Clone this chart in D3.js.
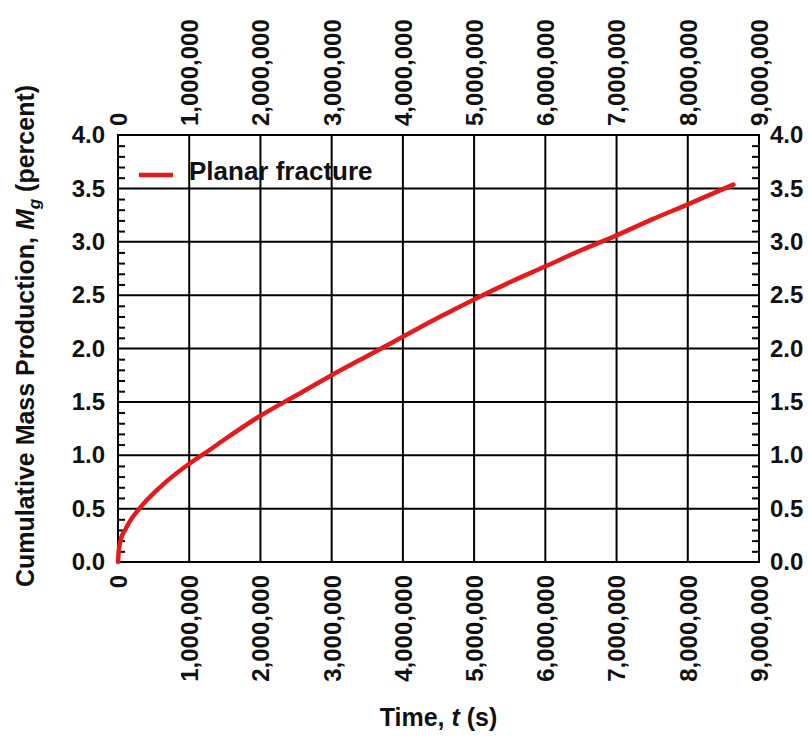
<!DOCTYPE html>
<html>
<head>
<meta charset="utf-8">
<script src="https://cdn.jsdelivr.net/npm/d3@7"></script>
<style>
  body { margin: 0; background: #fff; }
  svg text { font-family: "Liberation Sans", Arial, sans-serif; font-weight: bold; fill: #111; }
</style>
</head>
<body>
<svg id="chart"></svg>
<script>
// Time (s) and cumulative mass production (percent)
const timeSeconds = [0, 10000, 40000, 100000, 170000, 300000, 590000, 1000000, 1200000, 1500000,
  2000000, 2500000, 3000000, 3500000, 4000000, 4500000, 5000000, 5500000, 6000000, 6500000,
  7000000, 7500000, 8000000, 8640000];
const massPercent = [0, 0.10, 0.215, 0.30, 0.385, 0.50, 0.70, 0.92, 1.01, 1.15,
  1.37, 1.56, 1.75, 1.93, 2.11, 2.29, 2.46, 2.62, 2.77, 2.92,
  3.06, 3.21, 3.35, 3.535];
const xTicks = [0, 1000000, 2000000, 3000000, 4000000, 5000000, 6000000, 7000000, 8000000, 9000000];
const yTicks = [0, 0.5, 1.0, 1.5, 2.0, 2.5, 3.0, 3.5, 4.0];
const seriesName = "Planar fracture";

const W = 808, H = 740;
const margin = { top: 135, right: 49, bottom: 178, left: 118 };
const width = W - margin.left - margin.right;
const height = H - margin.top - margin.bottom;
const tickFont = "24px";
const titleFont = "25px";

const svg = d3.select("#chart").attr("width", W).attr("height", H);
const g = svg.append("g").attr("transform", `translate(${margin.left},${margin.top})`);

const x = d3.scaleLinear().domain([0, 9000000]).range([0, width]);
const y = d3.scaleLinear().domain([0, 4]).range([height, 0]);

// Grid lines
g.append("g").selectAll("line")
  .data(xTicks).enter().append("line")
  .attr("x1", d => x(d)).attr("x2", d => x(d))
  .attr("y1", 0).attr("y2", height)
  .attr("stroke", "#000").attr("stroke-width", 2);
g.append("g").selectAll("line")
  .data(yTicks).enter().append("line")
  .attr("x1", 0).attr("x2", width)
  .attr("y1", d => y(d)).attr("y2", d => y(d))
  .attr("stroke", "#000").attr("stroke-width", 2);

// Minor ticks (inward) on left and right
const minor = d3.range(0, 40).map(i => i / 10).filter(v => Math.round(v * 10) % 5 !== 0);
g.append("g").call(d3.axisLeft(y).tickValues(minor).tickSize(-7).tickFormat(""))
  .call(s => s.select(".domain").remove())
  .selectAll("line").attr("stroke-width", 2);
g.append("g").attr("transform", `translate(${width},0)`)
  .call(d3.axisRight(y).tickValues(minor).tickSize(-7).tickFormat(""))
  .call(s => s.select(".domain").remove())
  .selectAll("line").attr("stroke-width", 2);

// Frame
g.append("rect").attr("width", width).attr("height", height)
  .attr("fill", "none").attr("stroke", "#000").attr("stroke-width", 2);

// Y tick labels, both sides
const fmtY = d3.format(".1f");
const yl = g.append("g").call(d3.axisLeft(y).tickValues(yTicks).tickSize(0).tickPadding(13).tickFormat(fmtY));
yl.select(".domain").remove();
const yr = g.append("g").attr("transform", `translate(${width},0)`)
  .call(d3.axisRight(y).tickValues(yTicks).tickSize(0).tickPadding(11).tickFormat(fmtY));
yr.select(".domain").remove();

// X tick labels, bottom and top, rotated
const fmtX = d3.format(",");
const xb = g.append("g").attr("transform", `translate(0,${height})`)
  .call(d3.axisBottom(x).tickValues(xTicks).tickSize(0).tickFormat(fmtX));
xb.select(".domain").remove();
xb.selectAll("text")
  .attr("transform", "rotate(-90)")
  .attr("x", -13).attr("y", 0).attr("dy", "0.35em")
  .style("text-anchor", "end");
const xt = g.append("g")
  .call(d3.axisTop(x).tickValues(xTicks).tickSize(0).tickFormat(fmtX));
xt.select(".domain").remove();
xt.selectAll("text")
  .attr("transform", "rotate(-90)")
  .attr("x", 9).attr("y", 0).attr("dy", "0.35em")
  .style("text-anchor", "start");
g.selectAll(".tick text").style("font-size", tickFont)
  .style("font-family", "Liberation Sans, Arial, sans-serif")
  .style("font-weight", "bold").attr("fill", "#111");

// Curve
const pts = timeSeconds.map((t, i) => [t, massPercent[i]]);
g.append("path").datum(pts)
  .attr("fill", "none").attr("stroke", "#e41a1c").attr("stroke-width", 4.5)
  .attr("stroke-linecap", "round")
  .attr("d", d3.line().x(d => x(d[0])).y(d => y(d[1])).curve(d3.curveMonotoneX));

// Legend
const lg = g.append("g").attr("transform", "translate(21,40)");
lg.append("line").attr("x1", 0).attr("x2", 34).attr("stroke", "#e41a1c").attr("stroke-width", 4.5);
lg.append("text").attr("x", 50).attr("y", 5).style("font-size", "26px").text(seriesName);

// Axis titles
const xTitle = svg.append("text").attr("x", margin.left + width / 2).attr("y", 726)
  .attr("text-anchor", "middle").style("font-size", titleFont);
xTitle.append("tspan").text("Time, ");
xTitle.append("tspan").style("font-style", "italic").text("t");
xTitle.append("tspan").text(" (s)");

const yTitle = svg.append("text")
  .attr("transform", `translate(34,336) rotate(-90)`)
  .attr("text-anchor", "middle").style("font-size", titleFont);
yTitle.append("tspan").text("Cumulative Mass Production, ");
yTitle.append("tspan").style("font-style", "italic").text("M");
yTitle.append("tspan").style("font-style", "italic").style("font-size", "17px").attr("dy", 6).text("g");
yTitle.append("tspan").attr("dy", -6).text(" (percent)");
</script>
</body>
</html>
